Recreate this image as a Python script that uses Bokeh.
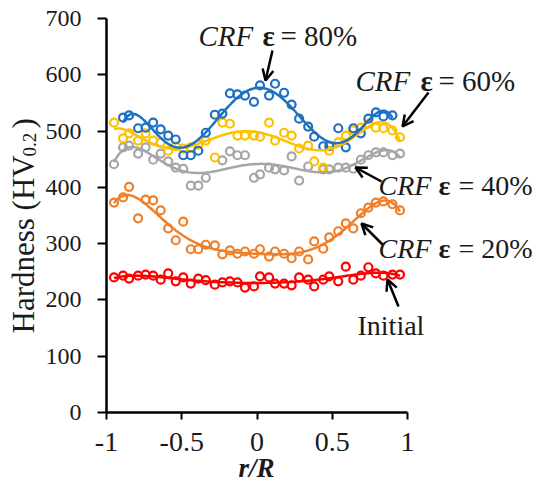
import numpy as np
from bokeh.plotting import figure
from bokeh.models import Range1d, FixedTicker, CustomJSTickFormatter, Label, Arrow, OpenHead
from bokeh.embed import file_html
from bokeh.resources import INLINE

# ---------------- data ----------------
r_initial = [-0.95, -0.89, -0.85, -0.79, -0.74, -0.69, -0.64, -0.59, -0.54, -0.49, -0.44, -0.39, -0.34,
             -0.28, -0.23, -0.18, -0.13, -0.08, -0.02, 0.02, 0.08, 0.12, 0.18, 0.23, 0.28, 0.34, 0.38,
             0.44, 0.48, 0.54, 0.59, 0.64, 0.69, 0.74, 0.79, 0.84, 0.90, 0.95]
hv_initial = [240, 243, 238, 243, 245, 243, 236, 247, 233, 240, 229, 238, 235, 227, 231, 233, 231, 222, 224,
              242, 240, 229, 229, 226, 240, 236, 224, 236, 242, 233, 259, 236, 243, 258, 247, 243, 245, 245]

r_20 = [-0.95, -0.89, -0.85, -0.79, -0.74, -0.69, -0.64, -0.59, -0.54, -0.49, -0.44, -0.39, -0.34,
        -0.28, -0.23, -0.18, -0.13, -0.08, -0.02, 0.02, 0.08, 0.12, 0.18, 0.23, 0.28, 0.34, 0.38,
        0.44, 0.48, 0.54, 0.59, 0.64, 0.69, 0.74, 0.79, 0.84, 0.90, 0.95]
hv_20 = [373, 382, 401, 345, 378, 377, 359, 327, 306, 339, 290, 290, 298, 297, 281, 288, 282, 286, 282,
         290, 277, 286, 282, 274, 286, 272, 304, 291, 311, 322, 336, 327, 354, 364, 373, 375, 370, 359]

r_40 = [-0.95, -0.89, -0.85, -0.79, -0.74, -0.69, -0.64, -0.59, -0.54, -0.49, -0.44, -0.39, -0.34,
        -0.23, -0.18, -0.13, -0.08, -0.02, 0.02, 0.08, 0.12, 0.18, 0.23, 0.28, 0.34,
        0.44, 0.48, 0.54, 0.59, 0.64, 0.69, 0.74, 0.79, 0.84, 0.90, 0.95]
hv_40 = [441, 471, 474, 460, 471, 449, 460, 446, 435, 433, 403, 403, 417, 448, 464, 457, 457, 417,
         423, 435, 432, 430, 455, 412, 437, 432, 432, 435, 435, 433, 449, 457, 462, 462, 457, 460]

r_60 = [-0.95, -0.89, -0.85, -0.79, -0.74, -0.69, -0.64, -0.59, -0.54, -0.49, -0.44, -0.39, -0.34,
        -0.28, -0.23, -0.18, -0.13, -0.08, -0.02, 0.02, 0.08, 0.12, 0.18, 0.23, 0.28, 0.34, 0.38,
        0.44, 0.48, 0.54, 0.59, 0.64, 0.69, 0.74, 0.79, 0.84, 0.90, 0.95]
hv_60 = [515, 487, 496, 483, 496, 483, 480, 465, 473, 469, 471, 476, 483, 453, 515, 513, 492, 492, 492,
         490, 515, 483, 497, 492, 469, 474, 446, 435, 465, 480, 492, 501, 506, 513, 506, 505, 501, 489]

r_80 = [-0.89, -0.85, -0.79, -0.74, -0.69, -0.64, -0.59, -0.54, -0.49, -0.44, -0.39, -0.34,
        -0.28, -0.23, -0.18, -0.13, -0.08, -0.02, 0.02, 0.08, 0.12, 0.18, 0.23, 0.28, 0.34, 0.38,
        0.44, 0.48, 0.54, 0.59, 0.64, 0.69, 0.74, 0.79, 0.84, 0.90]
hv_80 = [524, 528, 505, 506, 515, 503, 492, 485, 457, 457, 465, 497, 529, 531, 567, 565, 563, 552,
         581, 563, 584, 568, 547, 522, 508, 490, 473, 473, 505, 471, 505, 496, 522, 533, 526, 528]

x_ticks = [-1, -0.5, 0, 0.5, 1]
y_ticks = [0, 100, 200, 300, 400, 500, 600, 700]

series = [
    ("Initial", r_initial, hv_initial, "#ff0000"),
    ("CRF 20%", r_20, hv_20, "#f07f2a"),
    ("CRF 40%", r_40, hv_40, "#a6a6a6"),
    ("CRF 60%", r_60, hv_60, "#ffc000"),
    ("CRF 80%", r_80, hv_80, "#1f70c1"),
]

FONT = "Liberation Serif"
TXT = "#1a1a1a"

# geometry: r/R = -1 at px 106, 150.5 px per unit; HV 0 at px 412, 0.5629 px per HV
W, H = 542, 482
OX, OY = 106, 412
XS, YS = 150.5, 0.5629

p = figure(width=W, height=H, output_backend="svg", toolbar_location=None,
           x_range=Range1d(-1 - OX / XS, -1 + (W - OX) / XS),
           y_range=Range1d(-(H - OY) / YS, OY / YS),
           min_border_left=0, min_border_right=0, min_border_top=0, min_border_bottom=0)
p.outline_line_color = None
p.grid.visible = False
p.background_fill_color = "white"
p.border_fill_color = "white"

# markers
for name, xs, ys, col in series:
    p.scatter(xs, ys, marker="circle", size=8, fill_color=None, line_color=col, line_width=2.2)

# order-6 polynomial trendlines (as in the original spreadsheet chart)
for name, xs, ys, col in series:
    xa = np.array(xs, dtype=float)
    coef = np.polyfit(xa, np.array(ys, dtype=float), 6)
    xf = np.linspace(xa.min(), xa.max(), 200)
    p.line(xf, np.polyval(coef, xf), line_color=col, line_width=2.5)

# axes, pinned at r/R = -1 and HV = 0
xa_ = p.xaxis[0]
ya_ = p.yaxis[0]
xa_.fixed_location = 0
ya_.fixed_location = -1
xa_.ticker = FixedTicker(ticks=x_ticks)
ya_.ticker = FixedTicker(ticks=y_ticks)
xa_.bounds = (-1, 1)
ya_.bounds = (0, 700)
xa_.formatter = CustomJSTickFormatter(code="return tick.toString();")
for ax in (xa_, ya_):
    ax.axis_line_width = 2.5
    ax.axis_line_color = "black"
    ax.major_tick_line_width = 2
    ax.major_tick_line_color = "black"
    ax.minor_tick_line_color = None
    ax.major_tick_in = 0
    ax.major_label_text_font = FONT
    ax.major_label_text_color = TXT
ya_.major_tick_out = 9
ya_.major_label_text_font_size = "24px"
ya_.major_label_standoff = 16
xa_.major_tick_out = 7
xa_.major_label_text_font_size = "28px"
xa_.major_label_standoff = 13


def dx(px):
    return (px - OX) / XS - 1


def dy(py):
    return (OY - py) / YS


def lab(text, px, py, size, style="normal", angle=0.0, align="left"):
    p.add_layout(Label(x=dx(px), y=dy(py), text=text, text_font=FONT, text_font_size=size,
                       text_font_style=style, text_color=TXT, angle=angle,
                       text_align=align, text_baseline="alphabetic"))


# axis titles
lab("Hardness (HV", 23, 333, "31px", angle=np.pi / 2)
lab("0.2", 29, 156, "19px", angle=np.pi / 2)
lab(")", 23, 128, "31px", angle=np.pi / 2)
lab("r/R", 256, 467, "27px", style="bold italic", align="center")


# series annotations
def crf(pct, x1, x2, x3, base, size="29px"):
    lab("CRF", x1, base, size, style="italic")
    lab("\u03b5", x2, base, size, style="bold")
    lab("= %s" % pct, x3, base, size)


crf("80%", 198, 262, 280, 35)
crf("60%", 355, 420, 438, 80)
crf("40%", 378, 438, 458, 185, "28px")
crf("20%", 378, 438, 458, 248, "28px")
lab("Initial", 357, 325, "28px")

arrows = [((272, 50), (265, 80)), ((428, 92), (402, 126)), ((381, 181), (355, 167)),
          ((382, 244), (361, 223)), ((398, 306), (387, 279))]
for (x0, y0), (x1, y1) in arrows:
    p.add_layout(Arrow(end=OpenHead(size=11, line_width=2.5, line_color="black"),
                       x_start=dx(x0), y_start=dy(y0), x_end=dx(x1), y_end=dy(y1),
                       line_width=2.5, line_color="black"))

open("out.html", "w").write(file_html(p, INLINE))
